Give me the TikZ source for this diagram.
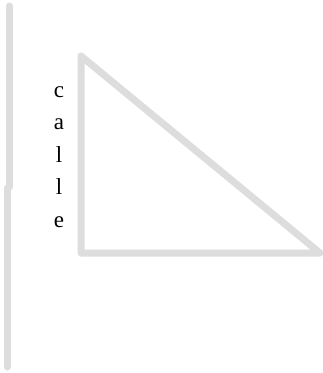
\documentclass[tikz,border=0pt]{standalone}
\usepackage{fontspec}
\setmainfont{Liberation Serif}
\definecolor{linegray}{HTML}{DDDDDD}
\tikzset{
  grayline/.style={draw=linegray, line width=7pt, line cap=round, line join=round},
  letters/.style={align=center, inner sep=0pt, font=\fontsize{23}{32.5}\selectfont, text=black}
}
\begin{document}
\begin{tikzpicture}[x=1pt,y=-1pt]
\useasboundingbox (0,0) rectangle (323,373);
\coordinate (u1) at (9,6);
\coordinate (u2) at (9,187);
\coordinate (l1) at (7,188);
\coordinate (l2) at (7,367);
\draw[grayline] (u1) -- (u2);
\draw[grayline] (l1) -- (l2);
\coordinate (t1) at (81,56);
\coordinate (t2) at (81,253);
\coordinate (t3) at (320,253);
\draw[grayline] (t1) -- (t2) -- (t3) -- cycle;
\node[letters] (callee) at (59,157) {c\\a\\l\\l\\e};
\end{tikzpicture}
\end{document}
